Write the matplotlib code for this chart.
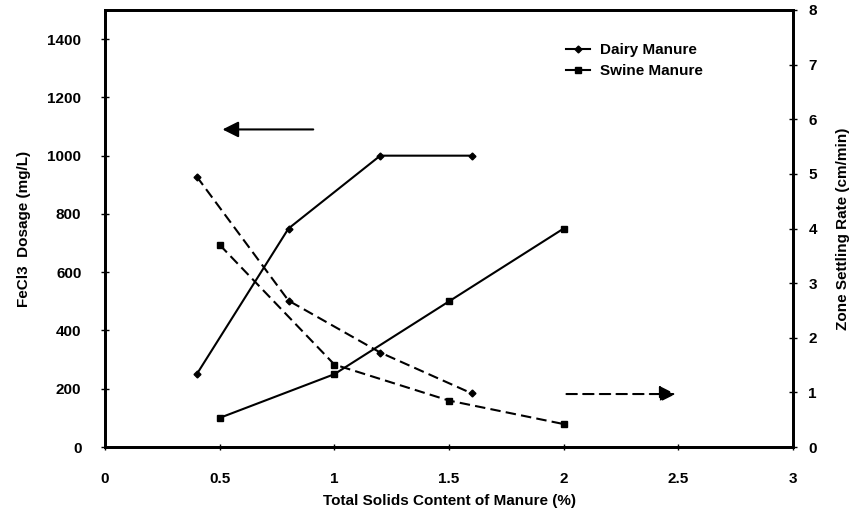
import numpy as np
import matplotlib.pyplot as plt
from matplotlib.lines import Line2D

plt.rcParams["font.family"] = "Liberation Sans"
plt.rcParams["font.weight"] = "bold"
plt.rcParams["axes.labelweight"] = "bold"

# FeCl3 dosage (left axis), solid lines
dairy_x = [0.4, 0.8, 1.2, 1.6]
dairy_dose = [250, 750, 1000, 1000]
swine_x = [0.5, 1.0, 1.5, 2.0]
swine_dose = [100, 250, 500, 750]

# zone settling rate (right axis), dashed lines
dairy_rate = [4.95, 2.68, 1.73, 0.98]
swine_rate = [3.70, 1.51, 0.85, 0.42]

xticks = [0, 0.5, 1, 1.5, 2, 2.5, 3]
xtick_labels = ["0", "0.5", "1", "1.5", "2", "2.5", "3"]

fig = plt.figure(figsize=(8.54, 5.15), dpi=100)
ax = fig.add_axes([0.123, 0.132, 0.8056, 0.8486])
ax2 = ax.twinx()

dash = (0, (5, 2.5))
ax.plot(dairy_x, dairy_dose, color="black", lw=1.5, marker="D", ms=3.5)
ax.plot(swine_x, swine_dose, color="black", lw=1.5, marker="s", ms=5)
ax2.plot(dairy_x, dairy_rate, color="black", lw=1.5, ls=dash, marker="D", ms=3.5)
ax2.plot(swine_x, swine_rate, color="black", lw=1.5, ls=dash, marker="s", ms=5)

ax.set_xlim(0, 3)
ax.set_ylim(0, 1500)
ax2.set_ylim(0, 8)
ax.set_xticks(xticks)
ax.set_xticklabels(xtick_labels)
ax.set_yticks(np.arange(0, 1401, 200))
ax2.set_yticks(np.arange(0, 9, 1))

for a in (ax, ax2):
    for s in a.spines.values():
        s.set_linewidth(2)
    a.tick_params(direction="inout", length=6, width=1, labelsize=11)
ax.tick_params(axis="x", length=4, pad=16)
ax.tick_params(axis="y", pad=14)
ax2.tick_params(axis="y", pad=8)

ax.set_xlabel("Total Solids Content of Manure (%)", fontsize=11, labelpad=6)
ax.set_ylabel("FeCl3  Dosage (mg/L)", fontsize=11, labelpad=12)
ax2.set_ylabel("Zone Settling Rate (cm/min)", fontsize=11, labelpad=14)

# direction arrows
ax.annotate("", xy=(0.5, 1090), xytext=(0.92, 1090),
            arrowprops=dict(arrowstyle="-|>", color="black", lw=1.5,
                            mutation_scale=24))
ax2.annotate("", xy=(2.5, 0.97), xytext=(2.0, 0.97),
             arrowprops=dict(arrowstyle="-|>", color="black", lw=1.5,
                             ls=(0, (5, 3)), mutation_scale=24))

handles = [
    Line2D([], [], color="black", lw=1.5, marker="D", ms=3.5),
    Line2D([], [], color="black", lw=1.5, marker="s", ms=5),
]
ax.legend(handles, ["Dairy Manure", "Swine Manure"], loc="upper left",
          bbox_to_anchor=(0.65, 0.955), frameon=False, fontsize=11,
          handlelength=1.6, handletextpad=0.6, labelspacing=0.45)

fig.savefig("out.png", dpi=100)
